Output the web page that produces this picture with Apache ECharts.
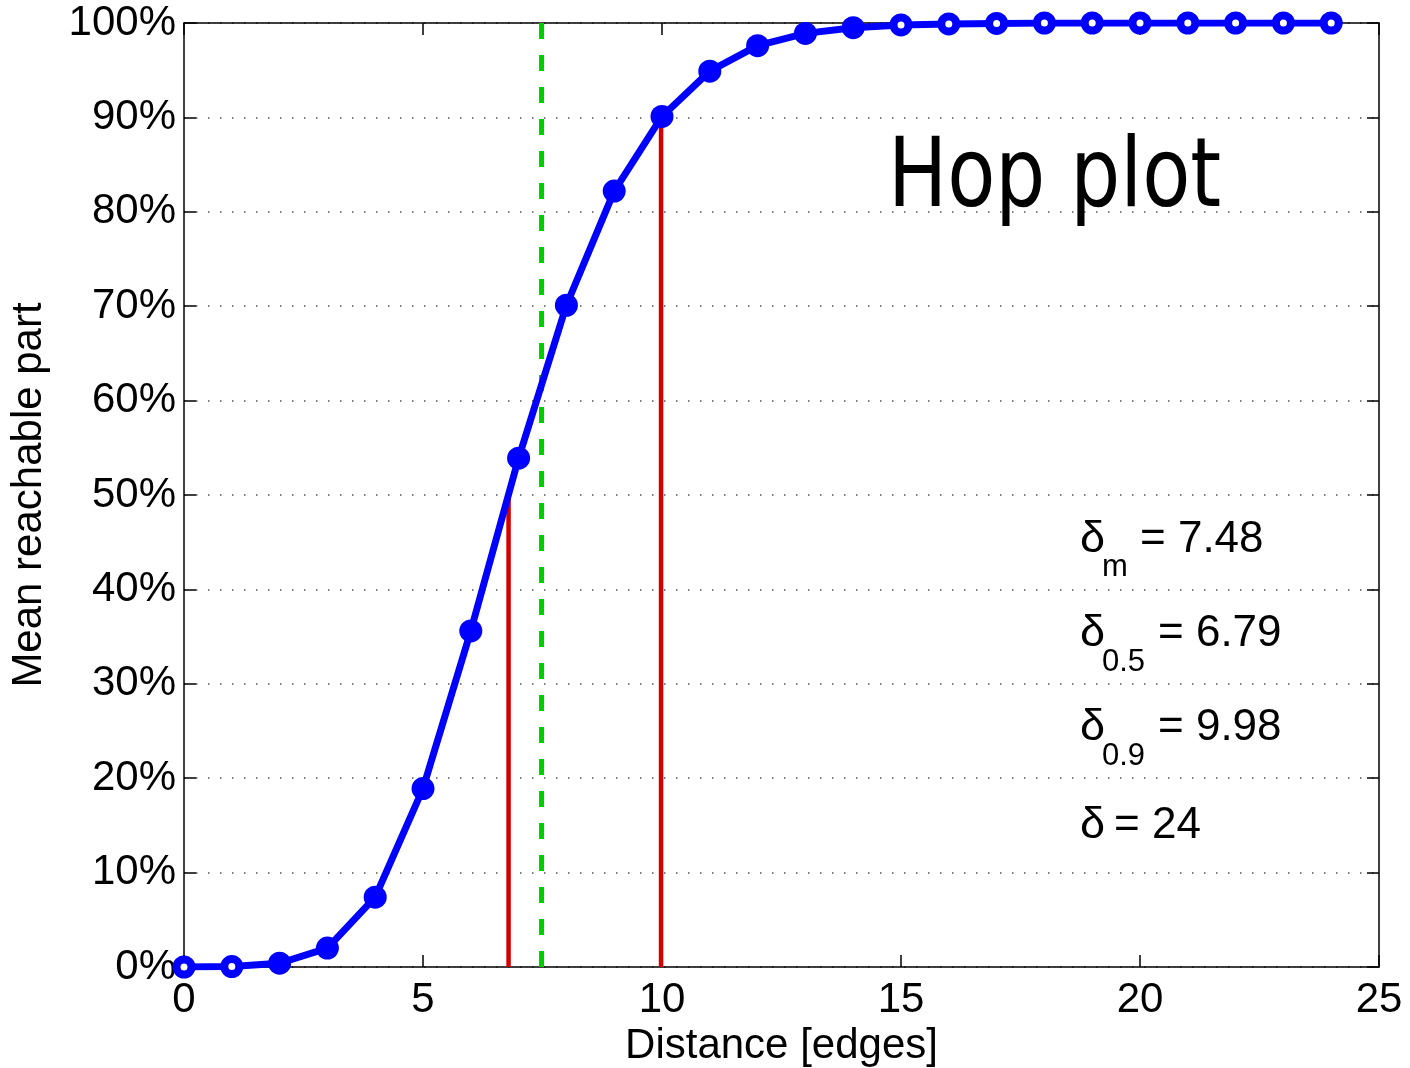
<!doctype html>
<html>
<head>
<meta charset="UTF-8">
<title>Hop plot</title>
<script src="https://cdn.jsdelivr.net/npm/echarts@6/dist/echarts.min.js"></script>
<style>
  html, body { margin: 0; padding: 0; background: #fff; }
  #main { width: 1410px; height: 1068px; }
</style>
</head>
<body>
<div id="main"></div>
<script>
// hop distance and mean reachable part (%)
var hops = [0, 1, 2, 3, 4, 5, 6, 7, 8, 9, 10, 11, 12, 13, 14, 15, 16, 17, 18, 19, 20, 21, 22, 23, 24];
var reach = [0, 0.05, 0.4, 2.0, 7.4, 18.9, 35.6, 53.9, 70.1, 82.2, 90.1, 94.9, 97.6, 98.9, 99.5, 99.8, 99.9, 99.95, 100, 100, 100, 100, 100, 100, 100];
// hops drawn as open circles
var openHops = [0, 1, 15, 16, 17, 18, 19, 20, 21, 22, 23, 24];

// statistics
var deltaMean = 7.48;
var delta50 = 6.79;
var delta90 = 9.98;
var diameter = 24;

var FONT = '"Liberation Sans", Arial, sans-serif';
var BLUE = '#0000ff';

var chart = echarts.init(document.getElementById('main'));

var linePts = hops.map(function (h, i) { return [h, reach[i]]; });
var markerPts = hops.map(function (h, i) {
    var open = openHops.indexOf(h) >= 0;
    return {
        value: [h, reach[i]],
        itemStyle: { color: open ? '#ffffff' : BLUE, borderColor: BLUE, borderWidth: open ? 8 : 0, opacity: 1 },
        symbolSize: open ? 15 : 23
    };
});

function plainAxis(extra) {
    var a = {
        type: 'value',
        axisLine: { show: true, onZero: false, lineStyle: { color: '#000', width: 1.5 } },
        axisTick: { show: true, inside: true, length: 12, lineStyle: { color: '#000', width: 1.5 } },
        axisLabel: { show: false },
        splitLine: { show: false }
    };
    for (var k in extra) a[k] = extra[k];
    return a;
}

function label(x, y, txt, size) {
    return {
        type: 'text', x: x, y: y, z: 100,
        style: { text: txt, font: size + 'px ' + FONT, fill: '#000', align: 'left', verticalAlign: 'middle' }
    };
}

var option = {
    backgroundColor: '#fff',
    animation: false,
    grid: { left: 184, right: 31, top: 23, bottom: 101, containLabel: false, outerBoundsMode: 'none' },
    xAxis: [
        plainAxis({
            position: 'bottom', min: 0, max: 25, interval: 5,
            name: 'Distance [edges]', nameLocation: 'middle', nameGap: 55,
            nameTextStyle: { fontSize: 42, fontFamily: FONT, color: '#000' },
            axisLabel: { show: true, fontSize: 42, fontFamily: FONT, color: '#000', margin: 12 }
        }),
        plainAxis({ position: 'top', min: 0, max: 25, interval: 5 })
    ],
    yAxis: [
        plainAxis({
            position: 'left', min: 0, max: 100, interval: 10,
            name: 'Mean reachable part', nameLocation: 'middle', nameGap: 134, nameRotate: 90,
            nameTextStyle: { fontSize: 42, fontFamily: FONT, color: '#000' },
            axisLabel: { show: true, fontSize: 42, fontFamily: FONT, color: '#000', margin: 8, formatter: '{value}%' },
            splitLine: { show: true, lineStyle: { color: '#555', width: 1.5, type: [1.5, 10.5] } }
        }),
        plainAxis({ position: 'right', min: 0, max: 100, interval: 10 })
    ],
    series: [
        {
            type: 'line', name: 'd50', z: 3, symbol: 'none',
            data: [[delta50, 0], [delta50, 50]],
            lineStyle: { color: '#d40000', width: 4.5 }
        },
        {
            type: 'line', name: 'd90', z: 3, symbol: 'none',
            data: [[delta90, 0], [delta90, 90]],
            lineStyle: { color: '#d40000', width: 4.5 }
        },
        {
            type: 'line', name: 'mean', z: 3, symbol: 'none',
            data: [[deltaMean, 0], [deltaMean, 100]],
            lineStyle: { color: '#00cc00', width: 5, type: [16, 16] }
        },
        {
            type: 'line', name: 'hop', z: 4, symbol: 'none',
            data: linePts,
            lineStyle: { color: BLUE, width: 7 }
        },
        {
            type: 'scatter', name: 'hopMarks', z: 5, symbol: 'circle',
            data: markerPts
        }
    ],
    graphic: [
        {
            type: 'text', x: 888, y: 181, scaleX: 0.82, z: 100,
            style: { text: 'Hop plot', font: '96px "DejaVu Sans", sans-serif', fill: '#000', align: 'left', verticalAlign: 'middle' }
        },
        label(1080, 540, 'δ', 45),
        label(1102, 567, 'm', 31),
        label(1140, 540, '= ' + deltaMean.toFixed(2), 44),
        label(1080, 634, 'δ', 45),
        label(1102, 662, '0.5', 31),
        label(1158, 634, '= ' + delta50.toFixed(2), 44),
        label(1080, 728, 'δ', 45),
        label(1102, 756, '0.9', 31),
        label(1158, 728, '= ' + delta90.toFixed(2), 44),
        label(1080, 826, 'δ', 45),
        label(1114, 826, '= ' + diameter, 44)
    ]
};

chart.setOption(option);
</script>
</body>
</html>
